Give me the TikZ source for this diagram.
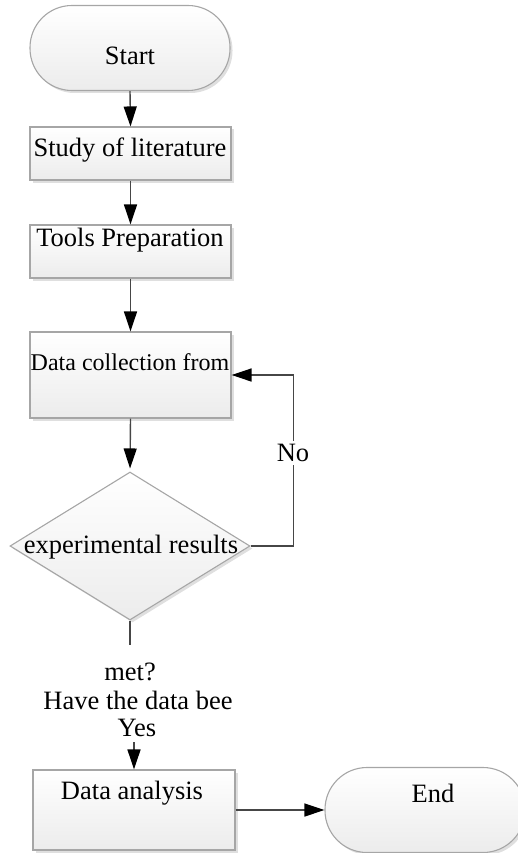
\documentclass[tikz,border=0pt]{standalone}
\usepackage{fontspec}
\setmainfont{Liberation Serif}
\usetikzlibrary{shapes.geometric,shadows,arrows.meta}

\begin{document}
\begin{tikzpicture}[x=1pt,y=-1pt,
  shape base/.style={draw=gray!70, line width=1.1pt, top color=white, bottom color=gray!15,
    drop shadow={opacity=0.25, shadow xshift=2.5pt, shadow yshift=-2.5pt},
    inner sep=0pt},
  box/.style={shape base, rectangle, minimum width=201pt},
  terminal/.style={shape base, rectangle, rounded corners=42pt, minimum width=200pt, minimum height=85pt},
  decision/.style={shape base, diamond, minimum width=240pt, minimum height=148pt},
  txt/.style={font=\fontsize{26.5pt}{30pt}\selectfont, inner sep=0pt},
  smalltxt/.style={font=\fontsize{24pt}{28pt}\selectfont, inner sep=0pt},
  link/.style={draw=gray!55!black, line width=1.4pt},
  flow/.style={link, -{Triangle[length=20pt,width=13pt,color=black]}}
]
\useasboundingbox (0,0) rectangle (517,853);

% shapes
\node[terminal] (start) at (130,48) {};
\node[box, minimum height=53pt] (study) at (130.5,153.5) {};
\node[box, minimum height=53pt] (tools) at (130.5,251.5) {};
\node[box, minimum height=86pt] (collect) at (130.5,375) {};
\node[decision] (dec) at (130,546) {};
\node[box, minimum width=202pt, minimum height=80pt] (analysis) at (134,810) {};
\node[terminal] (finish) at (425,810) {};

% texts
\node[txt] (tstart) at (130,56) {Start};
\node[txt] (tstudy) at (130,150) {Study of literature};
\node[txt] (ttools) at (130,240) {Tools Preparation};
\node[smalltxt] (tcollect) at (130,362) {Data collection from};
\node[txt] (tdec) at (131,547) {experimental results};
\node[txt] (tanalysis) at (132,793) {Data analysis};
\node[txt] (tfinish) at (433,793) {End};
\node[txt] (q1) at (130,672) {met?};
\node[txt] (q2) at (138,700) {Have the data bee};
\node[txt] (qyes) at (137,728) {Yes};

% connectors
\draw[flow] (start.south) -- (study.north);
\draw[flow] (study.south) -- (tools.north);
\draw[flow] (tools.south) -- (collect.north);
\draw[flow, shorten >=3pt] (collect.south) -- (dec.north);
\draw[flow] (dec.east) -- ++(43,0) |- (collect.east);
\node[txt, fill=white, inner ysep=3pt] (no) at (293,453) {No};
\coordinate (stub) at (130,645);
\draw[link] (dec.south) -- (stub);
\coordinate (yesfrom) at (134,742);
\draw[flow] (yesfrom) -- (analysis.north);
\draw[flow] (analysis.east) -- (finish.west);
\end{tikzpicture}
\end{document}
